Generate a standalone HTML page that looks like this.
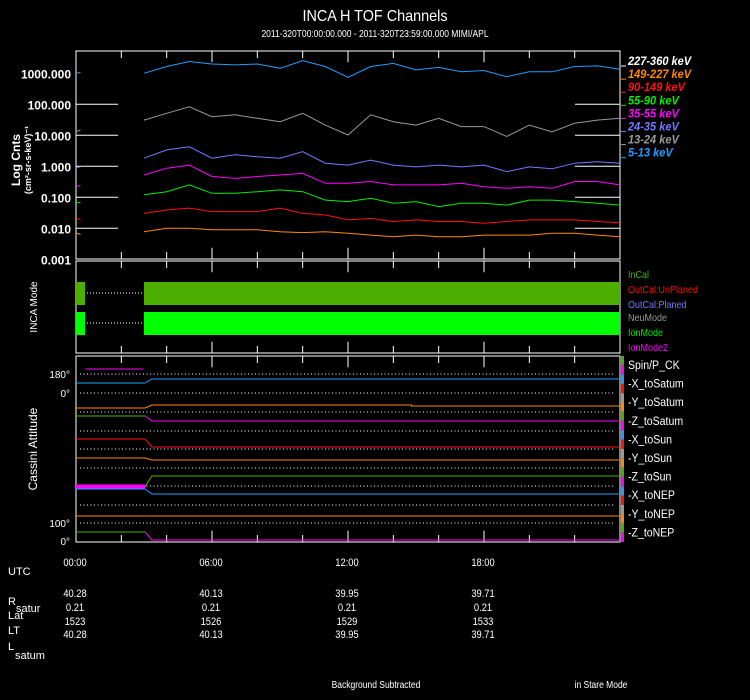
<!DOCTYPE html>
<html><head><meta charset="utf-8">
<style>
html,body{margin:0;padding:0;background:#000;}
svg{display:block;font-family:"Liberation Sans",sans-serif;}
</style></head>
<body>
<svg id="chart" width="750" height="700" viewBox="0 0 750 700" xmlns="http://www.w3.org/2000/svg">
<rect x="0" y="0" width="750" height="700" fill="#000"/>
<text x="375" y="21" fill="#fff" font-size="16" text-anchor="middle" transform="translate(375 0) scale(0.9 1) translate(-375 0)">INCA H TOF Channels</text>
<text x="375" y="37" fill="#fff" font-size="10" text-anchor="middle" transform="translate(375 0) scale(0.85 1) translate(-375 0)">2011-320T00:00:00.000 - 2011-320T23:59:00.000 MIMI/APL</text>
<g id="p1"></g>
<g id="p2"></g>
<g id="p3"></g>
<g id="bottom"></g>
</svg>
<script>
// ---- data ----
const hours = [3,4,5,6,7,8,9,10,11,12,13,14,15,16,17,18,19,20,21,22,23,24];
const startHours = [0,0.2];
const channelLabels = ["227-360 keV","149-227 keV","90-149 keV","55-90 keV","35-55 keV","24-35 keV","13-24 keV","5-13 keV"];
const logTicks = [3,2,1,0,-1,-2,-3];
const logTickLabels = ["1000.000","100.000","10.000","1.000","0.100","0.010","0.001"];
const ch5_13 = [3.0,3.22,3.38,3.30,3.27,3.30,3.16,3.41,3.22,2.87,3.22,3.32,3.11,3.19,3.05,3.09,2.89,3.05,3.05,3.22,3.24,3.13];
const ch5_13Start = [3.0,3.03];
const ch13_24 = [1.49,1.71,1.92,1.60,1.66,1.55,1.44,1.71,1.33,1.01,1.66,1.44,1.33,1.55,1.28,1.28,0.96,1.33,1.11,1.39,1.49,1.55];
const ch13_24Start = [1.12,1.17];
const ch24_35 = [0.26,0.53,0.63,0.26,0.37,0.31,0.26,0.47,0.10,0.04,0.20,0.04,-0.02,0.04,-0.02,0.04,-0.17,-0.02,-0.08,0.10,0.15,0.10];
const ch24_35Start = [-0.04,-0.02];
const ch35_55 = [-0.28,-0.06,0.04,-0.33,-0.39,-0.33,-0.28,-0.23,-0.55,-0.55,-0.49,-0.60,-0.60,-0.60,-0.55,-0.66,-0.71,-0.66,-0.71,-0.49,-0.49,-0.60];
const ch35_55Start = [-0.66,-0.62];
const ch55_90 = [-0.92,-0.82,-0.60,-0.87,-0.87,-0.82,-0.76,-0.82,-1.09,-1.14,-1.03,-1.19,-1.14,-1.30,-1.19,-1.19,-1.25,-1.09,-1.09,-1.14,-1.19,-1.25];
const ch55_90Start = [-1.18,-1.16];
const ch90_149 = [-1.52,-1.41,-1.35,-1.46,-1.46,-1.46,-1.35,-1.52,-1.57,-1.73,-1.68,-1.78,-1.73,-1.78,-1.78,-1.84,-1.78,-1.73,-1.73,-1.73,-1.78,-1.82];
const ch90_149Start = [-1.67,-1.72];
const ch149_227 = [-2.11,-2.0,-2.0,-2.05,-2.05,-2.05,-2.11,-2.14,-2.11,-2.16,-2.22,-2.27,-2.22,-2.27,-2.27,-2.22,-2.22,-2.22,-2.16,-2.16,-2.22,-2.27];
const ch149_227Start = [-2.15,-2.2];
const timeLabels = ["00:00","06:00","12:00","18:00"];
const timeLabelHours = [0,6,12,18];
const rSatur = ["40.28","40.13","39.95","39.71"];
const latVals = ["0.21","0.21","0.21","0.21"];
const ltVals = ["1523","1526","1529","1533"];
const lSatum = ["40.28","40.13","39.95","39.71"];
const modeLabels = ["InCal","OutCal:UnPlaned","OutCal:Planed","NeuMode","IonMode","IonMode2"];
const attLabels = ["Spin/P_CK","-X_toSatum","-Y_toSatum","-Z_toSatum","-X_toSun","-Y_toSun","-Z_toSun","-X_toNEP","-Y_toNEP","-Z_toNEP"];
// attitude traces: value before / after the ~03:00 slew (plot units above panel bottom)
const attBefore = [159,134,126,103,84,55.5,53,26,10];
const attAfter  = [163,137,121,95,82,66,48,26,2];
const attLate   = [163,136,121,95,82,66,48,26,2]; // after ~14:50
const lateHour = 14.8;

const NS="http://www.w3.org/2000/svg";
const X0=76, X1=620;
function xS(h){return X0 + h*(X1-X0)/24;}
function yLog(v){return 73.3 + (3-v)*31;}
function yAtt(v){return 542 - v;}
function mk(tag, attrs, parent){const e=document.createElementNS(NS,tag);for(const k in attrs)e.setAttribute(k,attrs[k]);parent.appendChild(e);return e;}
function txt(parent,x,y,s,size,fill,anchor,extra){const t=mk('text',{x:x,y:y,'font-size':size,fill:fill,'text-anchor':anchor||'start'},parent);if(extra)for(const k in extra)t.setAttribute(k,extra[k]);t.textContent=s;return t;}

function frame(g,top,bot,tickLen){
  const r=mk('rect',{x:X0,y:top,width:X1-X0,height:bot-top,fill:'none',stroke:'#fff','stroke-width':1},g);
  
  
  for(let h=2;h<24;h+=2){
    const len = (h%6===0)?tickLen*1.6:tickLen;
    mk('line',{x1:xS(h),x2:xS(h),y1:top,y2:top+len,stroke:'#fff'},g);
    mk('line',{x1:xS(h),x2:xS(h),y1:bot,y2:bot-len,stroke:'#fff'},g);
  }
}

// ---- panel 1 ----
const p1=document.getElementById('p1');
frame(p1,51,259,7);
logTicks.forEach((v,i)=>{
  const y=yLog(v);
  if(i>0&&i<logTicks.length-1){
    mk('line',{x1:X0,x2:X0+42,y1:y,y2:y,stroke:'#fff'},p1);
    mk('line',{x1:X1-45,x2:X1,y1:y,y2:y,stroke:'#fff'},p1);
  }
  const t=txt(p1,71,y+5,logTickLabels[i],12,'#fff','end',{'font-weight':'bold'});
  
  
});
const yt=mk('text',{transform:'translate(20 160) rotate(-90)','font-size':12,'font-weight':'bold',fill:'#fff','text-anchor':'middle'},p1);


yt.textContent='Log Cnts';
const yt2=mk('text',{transform:'translate(31 160) rotate(-90)','font-size':9,'font-weight':'bold',fill:'#fff','text-anchor':'middle'},p1);


yt2.textContent='(cm²-sr-s-keV)⁻¹';

const series=[[ch5_13,ch5_13Start,'#1e9fff','5-13 keV'],[ch13_24,ch13_24Start,'#999999','13-24 keV'],[ch24_35,ch24_35Start,'#7777ff','24-35 keV'],[ch35_55,ch35_55Start,'#ff00ff','35-55 keV'],[ch55_90,ch55_90Start,'#00ee00','55-90 keV'],[ch90_149,ch90_149Start,'#ff1010','90-149 keV'],[ch149_227,ch149_227Start,'#ff8800','149-227 keV']];
series.forEach(s=>{
  const pts=hours.map((h,i)=>xS(h).toFixed(1)+','+yLog(s[0][i]).toFixed(1)).join(' ');
  const pl=mk('polyline',{points:pts,fill:'none',stroke:s[2],'stroke-width':1},p1);
  
  
  const pts2=startHours.map((h,i)=>xS(h).toFixed(1)+','+yLog(s[1][i]).toFixed(1)).join(' ');
  mk('polyline',{points:pts2,fill:'none',stroke:s[2],'stroke-width':1},p1);
});
const legColors=['#ffffff','#ff8800','#ff1010','#00ee00','#ff00ff','#7777ff','#999999','#1e9fff'];
channelLabels.forEach((l,i)=>{
  const y=61+i*13.1;
  mk('line',{x1:621,x2:626,y1:y+5,y2:y+5,stroke:legColors[i]},p1);
  const t=txt(p1,628,y+4,l,12,legColors[i],'start',{'font-weight':'bold','font-style':'italic',transform:'translate(628 0) scale(0.92 1) translate(-628 0)'});
  
  
});

// ---- panel 2 ----
const p2=document.getElementById('p2');
frame(p2,261,353,7);
const mt=mk('text',{transform:'translate(37 307) rotate(-90)','font-size':10,fill:'#fff','text-anchor':'middle'},p2);


mt.textContent='INCA Mode';
[[282,'#4caf00'],[312,'#00ff00']].forEach(b=>{
  const r1=mk('rect',{x:76,y:b[0],width:9,height:23,fill:b[1]},p2);
  
  
  mk('line',{x1:87,x2:143,y1:b[0]+11,y2:b[0]+11,stroke:'#fff','stroke-dasharray':'1 2'},p2);
  const r2=mk('rect',{x:144,y:b[0],width:476,height:23,fill:b[1]},p2);
  
  
});
const modeColors=['#4caf00','#ff1010','#7777ff','#999999','#00ee00','#ff00ff'];
const modeY=[274,289,304,317,332,347];
modeLabels.forEach((l,i)=>{
  const t=txt(p2,628,modeY[i]+4,l,10,modeColors[i],'start',{transform:'translate(628 0) scale(0.9 1) translate(-628 0)'});
  
  
});

// ---- panel 3 ----
const p3=document.getElementById('p3');
frame(p3,356,542,7);
const at=mk('text',{transform:'translate(37 449) rotate(-90)','font-size':12,fill:'#fff','text-anchor':'middle'},p3);


at.textContent='Cassini Attitude';
[374,393,412,431,449,468,486,505,523].forEach(y=>mk('line',{x1:80,x2:615,y1:y,y2:y,stroke:'#fff','stroke-dasharray':'1 2.5'},p3));
txt(p3,70,378,'180°',10,'#fff','end');
txt(p3,70,397,'0°',10,'#fff','end');
txt(p3,70,527,'100°',10,'#fff','end');
txt(p3,70,545,'0°',10,'#fff','end');
mk('line',{x1:85,x2:143,y1:369,y2:369,stroke:'#ff00ff'},p3);
const attColBefore=['#1e9fff','#ff8800','#4caf00','#ff1010','#ff8800','#ff00ff','#1e9fff','#ff8800','#4caf00'];
const attColAfter =['#1e9fff','#ff8800','#ff00ff','#ff1010','#ff8800','#4caf00','#1e9fff','#ff8800','#ff00ff'];
attBefore.forEach((vb,i)=>{
  const yb=yAtt(vb), ya=yAtt(attAfter[i]), yl=yAtt(attLate[i]);
  const a=mk('polyline',{points:`76,${yb} ${xS(3.05)},${yb}`,fill:'none',stroke:attColBefore[i],'stroke-width':(i===5?4:1)},p3);
  
  
  const b=mk('polyline',{points:`${xS(3.05)},${yb} ${xS(3.35)},${ya} ${xS(lateHour)},${ya} ${xS(lateHour)},${yl} 620,${yl}`,fill:'none',stroke:attColAfter[i],'stroke-width':1},p3);
  
  
});
const barCols=['#4caf00','#ff00ff','#1e9fff','#ff1010','#999999','#ff8800'];
for(let k=0;k<20;k++){mk('rect',{x:621,y:356+k*9.3,width:3,height:9.3,fill:barCols[k%6]},p3);}
attLabels.forEach((l,i)=>{
  const t=txt(p3,628,369+i*18.6,l,12,'#fff','start',{transform:'translate(628 0) scale(0.88 1) translate(-628 0)'});
  
  
});

// ---- bottom ----
const bt=document.getElementById('bottom');
function ctxt(x,y,s,size){return txt(bt,x,y,s,size,'#fff','middle',{transform:`translate(${x} 0) scale(0.85 1) translate(${-x} 0)`});}
txt(bt,8,575,'UTC',11,'#fff');
txt(bt,8,605,'R',11,'#fff');txt(bt,16,612,'satur',11,'#fff');
txt(bt,8,619,'Lat',11,'#fff');txt(bt,8,634,'LT',11,'#fff');
txt(bt,8,650,'L',11,'#fff');txt(bt,15,659,'satum',11,'#fff');
timeLabelHours.forEach((h,i)=>{
  const x=xS(h)-1;
  const t=ctxt(x,566,timeLabels[i],11);
  
  
  ctxt(x,597,rSatur[i],11);
  ctxt(x,611,latVals[i],11);
  ctxt(x,625,ltVals[i],11);
  ctxt(x,638,lSatum[i],11);
});
ctxt(376,688,'Background Subtracted',10);
ctxt(601,688,'in Stare Mode',10);
</script>
</body></html>
